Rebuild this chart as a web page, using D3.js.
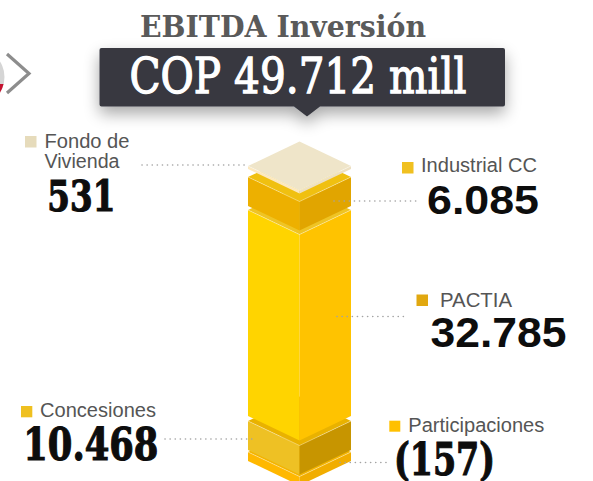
<!DOCTYPE html>
<html>
<head>
<meta charset="utf-8">
<script src="https://cdn.jsdelivr.net/npm/d3@7/dist/d3.min.js"></script>
<style>
  html, body { margin: 0; padding: 0; background: #ffffff; overflow: hidden; }
  svg { display: block; }
</style>
</head>
<body>
<div id="chart"></div>
<script>
// ---------- data ----------
const chartTitle = "EBITDA Inversión";
const totalPrefix = "COP ";
const totalSuffix = " mill";
const categories = ["Fondo de Vivienda", "Industrial CC", "PACTIA", "Concesiones", "Participaciones"];
const categoryLines = [["Fondo de", "Vivienda"], ["Industrial CC"], ["PACTIA"], ["Concesiones"], ["Participaciones"]];
const values = [531, 6085, 32785, 10468, -157];

// ---------- setup ----------
const W = 593, H = 481;
const svg = d3.select("#chart").append("svg").attr("width", W).attr("height", H);

const esLocale = d3.formatLocale({ decimal: ",", thousands: ".", grouping: [3], currency: ["", ""] });
const fmt = esLocale.format(",.0f");
const fmtVal = v => v < 0 ? "(" + fmt(-v) + ")" : fmt(v);
const total = d3.sum(values);

// styles per segment
const faceColors = [
  { top: "#efe5c9", left: "#fce8bf", right: "#ede0c2", key: "#e6dbbb" },
  { top: "#f0c010", left: "#edb000", right: "#e1a500", key: "#f0c020" },
  { top: "#efc424", left: "#ffd400", right: "#ffc300", key: "#e1a810" },
  { top: "#e9b200", left: "#eec124", right: "#c79500", key: "#efc020" },
  { top: "#f3b400", left: "#ffb800", right: "#f1ad00", key: "#ffc000" }
];

// stylised tiers: the infographic does not draw heights proportionally
const tier = d3.scaleThreshold().domain([1000, 20000]).range([3, 29, 206]);
const negativeSlab = 9;
const thickness = v => v < 0 ? negativeSlab : tier(Math.abs(v));

const cx = 299.5, hw = 51.5, d = 24.5;
const gaps = [8, 4, 5, 2];
let cursor = 166;
const segs = values.map((v, i) => {
  const h = thickness(v);
  const s = { i, v, t: cursor, h };
  cursor += h + (gaps[i] || 0);
  return s;
});

const line = d3.line();
const gCol = svg.append("g");
segs.slice().reverse().forEach(s => {
  const t = s.t, h = s.h, c = faceColors[s.i];
  const g = gCol.append("g");
  g.append("path").attr("d", line([[cx - hw, t], [cx, t + d], [cx, t + d + h], [cx - hw, t + h]]) + "Z")
    .attr("fill", c.left);
  g.append("path").attr("d", line([[cx, t + d], [cx + hw, t], [cx + hw, t + h], [cx, t + d + h]]) + "Z")
    .attr("fill", c.right);
  g.append("path").attr("d", line([[cx - hw, t], [cx, t - d], [cx + hw, t], [cx, t + d]]) + "Z")
    .attr("fill", c.top);
  g.append("path").attr("d", line([[cx - hw, t], [cx, t + d], [cx + hw, t]]))
    .attr("fill", "none").attr("stroke", "rgba(255,255,255,0.45)").attr("stroke-width", 0.8);
});

// ---------- header ----------
const defs = svg.append("defs");
const f = defs.append("filter").attr("id", "shadow").attr("x", "-20%").attr("y", "-40%").attr("width", "140%").attr("height", "200%");
f.append("feGaussianBlur").attr("in", "SourceAlpha").attr("stdDeviation", 8);
f.append("feOffset").attr("dx", 0).attr("dy", 7).attr("result", "ob");
f.append("feComponentTransfer").append("feFuncA").attr("type", "linear").attr("slope", 0.35);
const fm = f.append("feMerge");
fm.append("feMergeNode");
fm.append("feMergeNode").attr("in", "SourceGraphic");

svg.append("text")
  .attr("x", 140).attr("y", 36.7)
  .attr("font-family", "'DejaVu Serif', serif").attr("font-weight", "bold").attr("font-size", 30)
  .attr("fill", "#5a5a5a")
  .attr("textLength", 286).attr("lengthAdjust", "spacingAndGlyphs")
  .text(chartTitle);

const bx0 = 99.5, bx1 = 505, by0 = 48, by1 = 106.5, r = 2;
const boxPath = `M${bx0 + r},${by0} H${bx1 - r} Q${bx1},${by0} ${bx1},${by0 + r} V${by1 - r} Q${bx1},${by1} ${bx1 - r},${by1}
  H320 L307,116.5 L294,${by1} H${bx0 + r} Q${bx0},${by1} ${bx0},${by1 - r} V${by0 + r} Q${bx0},${by0} ${bx0 + r},${by0} Z`;
svg.append("path").attr("d", boxPath).attr("fill", "#373941").attr("filter", "url(#shadow)");

svg.append("text")
  .attr("x", 129.5).attr("y", 92.7)
  .attr("font-family", "'DejaVu Serif', serif").attr("font-size", 49)
  .attr("fill", "#ffffff").attr("stroke", "#ffffff").attr("stroke-width", 1.3)
  .attr("textLength", 337).attr("lengthAdjust", "spacingAndGlyphs")
  .text(totalPrefix + fmt(total) + totalSuffix);

// left nav icon
const clip = defs.append("clipPath").attr("id", "circ");
clip.append("circle").attr("cx", -24).attr("cy", 77).attr("r", 28.5);
const gi = svg.append("g").attr("clip-path", "url(#circ)");
gi.append("rect").attr("x", -60).attr("y", 40).attr("width", 70).attr("height", 80).attr("fill", "#d5d5d5");
gi.append("rect").attr("x", -60).attr("y", 84).attr("width", 70).attr("height", 40).attr("fill", "#c4122f");
svg.append("path").attr("d", line([[7, 54], [29, 73.5], [7, 93]]))
  .attr("fill", "none").attr("stroke", "#8d8d8d").attr("stroke-width", 3.2);

// ---------- labels ----------
const labelLayout = [
  { kx: 25, ky: 136, ks: 11.5, tx: 44.5, ty: 148.3, lh: 19.4, tw: [85, 75], nx: 47.3, ny: 210.7, nfs: 42, nw: 68, serif: true, lead: [142, 248, 165] },
  { kx: 402, ky: 162, ks: 11.5, tx: 421, ty: 172, lh: 0, tw: [116], nx: 427, ny: 214, nfs: 41, nw: 112, serif: false, lead: [334, 419, 201] },
  { kx: 416.5, ky: 294.5, ks: 11.5, tx: 440, ty: 306.7, lh: 0, tw: [72], nx: 430.5, ny: 346.7, nfs: 43, nw: 136, serif: false, lead: [337, 408, 316.5] },
  { kx: 21, ky: 406, ks: 11.3, tx: 40, ty: 416.7, lh: 0, tw: [116], nx: 23.3, ny: 460, nfs: 45, nw: 135, serif: true, lead: [165, 256, 439] },
  { kx: 389.3, ky: 420.7, ks: 11, tx: 408.3, ty: 432.3, lh: 0, tw: [136], nx: 394, ny: 475, nfs: 45, nw: 101, serif: true, lead: [340, 390, 462.5] }
];

const gl = svg.append("g");
categories.forEach((cat, i) => {
  const L = labelLayout[i];
  gl.append("line")
    .attr("x1", L.lead[0]).attr("x2", L.lead[1]).attr("y1", L.lead[2]).attr("y2", L.lead[2])
    .attr("stroke", "#a3a3a3").attr("stroke-width", 1.6).attr("stroke-linecap", "round")
    .attr("stroke-dasharray", "0.1 5");
  gl.append("rect").attr("x", L.kx).attr("y", L.ky).attr("width", L.ks).attr("height", L.ks)
    .attr("fill", faceColors[i].key);
  categoryLines[i].forEach((ln, j) => {
    gl.append("text")
      .attr("x", L.tx).attr("y", L.ty + j * L.lh)
      .attr("font-family", "'Liberation Sans', Arial, sans-serif").attr("font-size", 20)
      .attr("fill", "#555555")
      .attr("textLength", L.tw[j]).attr("lengthAdjust", "spacingAndGlyphs")
      .text(ln);
  });
  gl.append("text")
    .attr("x", L.nx).attr("y", L.ny)
    .attr("font-family", L.serif ? "'DejaVu Serif', serif" : "'Liberation Sans', Arial, sans-serif")
    .attr("font-weight", "bold").attr("font-size", L.nfs)
    .attr("fill", "#0d0d0d")
    .attr("stroke", L.serif ? "#0d0d0d" : "none").attr("stroke-width", L.serif ? 1.2 : 0)
    .attr("textLength", L.nw).attr("lengthAdjust", "spacingAndGlyphs")
    .text(fmtVal(values[i]));
});
</script>
</body>
</html>
